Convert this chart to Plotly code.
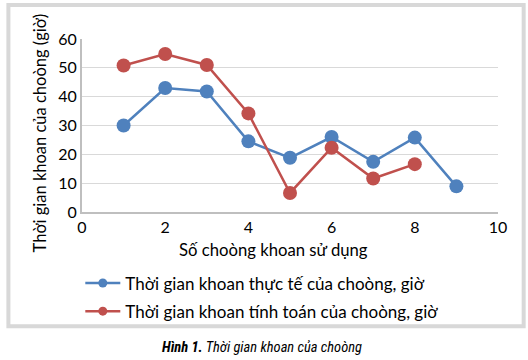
import plotly.graph_objects as go

# ---- data ----
x_vals = [1, 2, 3, 4, 5, 6, 7, 8, 9]
actual_hours = [30, 43, 41.8, 24.5, 18.8, 26, 17.4, 25.8, 8.9]
x_calc = [1, 2, 3, 4, 5, 6, 7, 8]
calc_hours = [50.8, 54.8, 51, 34.2, 6.6, 22.3, 11.6, 16.6]
name_actual = "Thời gian khoan thực tế của choòng, giờ"
name_calc = "Thời gian khoan tính toán của choòng, giờ"
x_title = "Số choòng khoan sử dụng"
y_title = "Thời gian khoan của choòng (giờ)"
caption_bold = "Hình 1."
caption_rest = " Thời gian khoan của choòng"

BLUE = "#4f81bd"
RED = "#c0504d"
FONT = "Lato, 'Open Sans', sans-serif"

W, H = 528, 360
L, R, T, B = 81.7, 29.7, 39.3, 148.3
PW, PH = W - L - R, H - T - B


def px(xp):
    return (xp - L) / PW


def py(yp):
    return (H - B - yp) / PH


fig = go.Figure()
fig.add_trace(go.Scatter(x=x_vals, y=actual_hours, mode="lines+markers",
                         line=dict(color=BLUE, width=2.5),
                         marker=dict(color=BLUE, size=14), showlegend=False))
fig.add_trace(go.Scatter(x=x_calc, y=calc_hours, mode="lines+markers",
                         line=dict(color=RED, width=2.5),
                         marker=dict(color=RED, size=14), showlegend=False))
# legend entries
fig.add_trace(go.Scatter(x=[None], y=[None], mode="lines+markers", name=name_actual,
                         legendgroup="a",
                         line=dict(color=BLUE, width=2.5), marker=dict(color=BLUE, size=9)))
fig.add_trace(go.Scatter(x=[None], y=[None], mode="lines+markers", name=name_calc,
                         legendgroup="b",
                         line=dict(color=RED, width=2.5), marker=dict(color=RED, size=9)))

fig.update_layout(
    width=W, height=H,
    margin=dict(l=L, r=R, t=T, b=B),
    paper_bgcolor="white", plot_bgcolor="white",
    font=dict(family=FONT, size=15, color="black"),
    xaxis=dict(range=[0, 10], tickvals=[0, 2, 4, 6, 8, 10], showgrid=False,
               showline=True, linecolor="#bfbfbf", linewidth=2, ticks="",
               zeroline=False, tickfont=dict(size=16)),
    yaxis=dict(range=[0, 60], tickvals=[0, 10, 20, 30, 40, 50, 60], showgrid=True,
               gridcolor="#d9d9d9", gridwidth=1, showline=True, linecolor="#bfbfbf",
               linewidth=2, ticks="", zeroline=False, tickfont=dict(size=16)),
    legend=dict(x=px(80), y=py(265), xanchor="left", yanchor="top",
                bgcolor="rgba(0,0,0,0)", font=dict(size=17), tracegroupgap=3,
                itemwidth=35),
    showlegend=True,
    shapes=[dict(type="rect", xref="paper", yref="paper",
                 x0=px(8), x1=px(524), y0=py(325.5), y1=py(5.5),
                 line=dict(color="#d8d8d8", width=4), layer="below")],
    annotations=[
        dict(text=x_title, xref="paper", yref="paper", x=px(273), y=py(250),
             showarrow=False, font=dict(size=16.7), xanchor="center", yanchor="middle"),
        dict(text=y_title, xref="paper", yref="paper", x=px(40), y=py(133),
             showarrow=False, font=dict(size=16.5), textangle=-90,
             xanchor="center", yanchor="middle"),
        dict(text="<b><i>" + caption_bold + "</i></b><i>" + caption_rest + "</i>",
             xref="paper", yref="paper", x=px(262), y=py(347), showarrow=False,
             font=dict(size=14.5, family="'Liberation Sans Narrow', 'Roboto Condensed', 'DejaVu Sans Condensed', sans-serif"),
             xanchor="center", yanchor="middle"),
    ],
)

fig.write_html("out.html", config={"displayModeBar": False},
               post_script="document.body.style.margin='0';document.body.style.overflow='hidden';")
